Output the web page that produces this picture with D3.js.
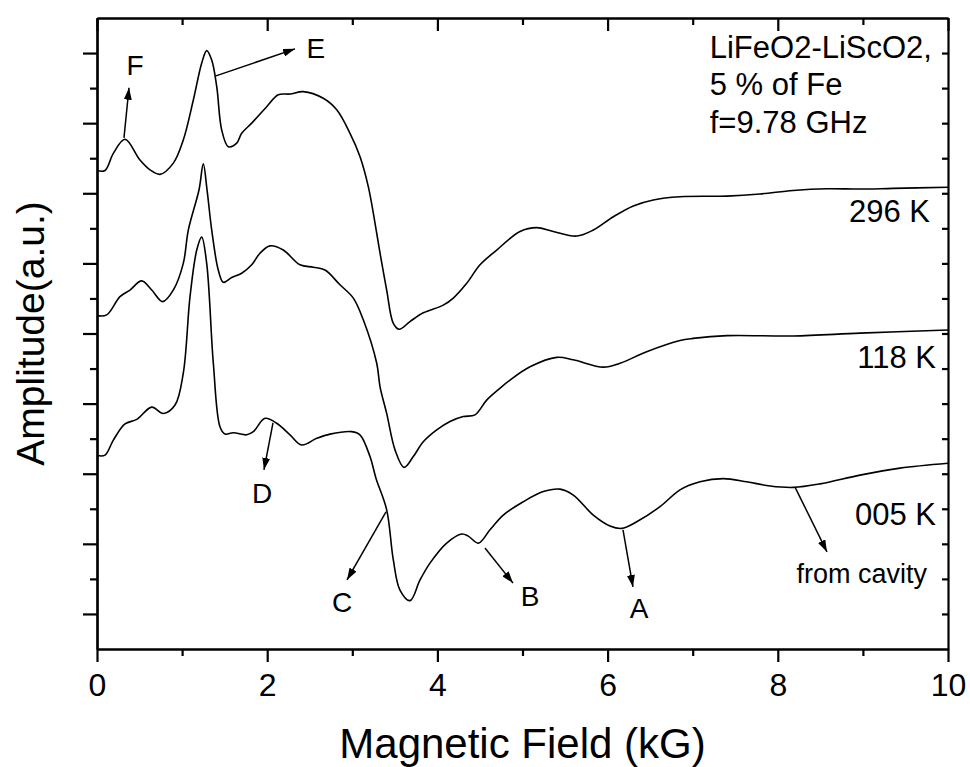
<!DOCTYPE html>
<html>
  <head>
    <meta charset="utf-8">
    <title>EPR spectra LiFeO2-LiScO2</title>
    <script src="https://cdn.jsdelivr.net/npm/d3@7"></script>
    <style>
      body { margin: 0; background: #fff; }
      svg { font-family: "Liberation Sans", Arial, sans-serif; }
      .axis path, .axis line { stroke: #000; stroke-width: 2.2; }
      .axis text { font-size: 32px; fill: #000; }
      .curve { fill: none; stroke: #000; stroke-width: 1.6; }
      .note { stroke: #000; stroke-width: 1.5; }
    </style>
  </head>

  <body>
    <svg id="chart" width="970" height="767">
      <defs>
        <marker id="head" viewBox="0 0 12 8" refX="12" refY="4" markerWidth="12" markerHeight="8" markerUnits="userSpaceOnUse" orient="auto">
          <path d="M0,0 L12,4 L0,8 Z" fill="#000"></path>
        </marker>
      </defs>
      <g id="curveGroup"></g>
      <g id="axisGroup"></g>
      <g id="noteGroup"></g>
    </svg>

    <script>
      // data, field in kG, amplitude in arbitrary units (offset per temperature)
      k296 = [[0,13.65],[0.094,13.65],[0.192,14.14],[0.329,14.54],[0.505,13.95],[0.623,13.67],[0.74,13.54],[0.897,13.86],[1.014,14.52],[1.132,15.66],[1.23,16.71],[1.289,17.07],[1.348,16.8],[1.407,16.04],[1.465,14.81],[1.543,14.33],[1.642,14.43],[1.7,14.71],[1.818,15.0],[1.994,15.47],[2.13,15.81],[2.268,15.83],[2.424,15.9],[2.659,15.71],[2.817,15.38],[2.973,14.71],[3.09,14.05],[3.188,13.19],[3.287,11.86],[3.326,11.29],[3.404,10.24],[3.482,9.29],[3.552,9.12],[3.678,9.34],[3.834,9.59],[4.069,9.81],[4.187,10.01],[4.344,10.43],[4.501,10.96],[4.697,11.38],[4.971,11.91],[5.167,12.02],[5.362,11.91],[5.637,11.78],[5.832,11.95],[6.067,12.33],[6.302,12.64],[6.537,12.81],[6.851,12.9],[7.403,12.92],[7.791,12.98],[8.179,13.08],[8.578,13.13],[8.966,13.12],[9.354,13.14],[10,13.17]];

      k118 = [[0,9.51],[0.114,9.53],[0.27,10.05],[0.388,10.24],[0.525,10.5],[0.643,10.24],[0.772,9.91],[0.897,10.24],[1.014,11.0],[1.073,11.95],[1.199,13.1],[1.249,13.84],[1.293,13.1],[1.348,11.95],[1.425,10.81],[1.484,10.46],[1.583,10.6],[1.7,10.72],[1.818,10.96],[1.915,11.29],[2.033,11.5],[2.189,11.38],[2.385,10.96],[2.542,10.89],[2.679,10.81],[2.855,10.39],[3.012,10.01],[3.129,9.39],[3.287,8.15],[3.326,7.48],[3.404,6.72],[3.502,5.68],[3.608,5.18],[3.717,5.49],[3.834,5.91],[3.992,6.25],[4.148,6.49],[4.304,6.63],[4.442,6.68],[4.579,7.1],[4.736,7.44],[4.853,7.67],[5.088,8.05],[5.402,8.32],[5.597,8.25],[5.949,8.04],[6.146,8.15],[6.459,8.48],[6.851,8.8],[7.004,8.86],[7.403,8.94],[8.179,8.93],[8.966,9.01],[10,9.1]];

      k005 = [[0,5.52],[0.094,5.53],[0.192,5.96],[0.329,6.42],[0.467,6.55],[0.643,6.9],[0.779,6.72],[0.917,6.96],[1.014,7.87],[1.093,10.05],[1.172,11.38],[1.23,11.75],[1.289,11.0],[1.367,8.15],[1.445,6.34],[1.504,6.13],[1.602,6.17],[1.759,6.11],[1.837,6.2],[1.974,6.58],[2.112,6.44],[2.268,6.11],[2.405,5.82],[2.582,6.01],[2.738,6.13],[2.993,6.2],[3.09,6.11],[3.208,5.49],[3.278,4.87],[3.404,3.97],[3.482,2.54],[3.56,1.68],[3.678,1.38],[3.796,1.97],[3.913,2.45],[4.109,3.02],[4.286,3.28],[4.363,3.22],[4.481,3.02],[4.618,3.4],[4.774,3.82],[5.009,4.2],[5.244,4.49],[5.441,4.56],[5.597,4.39],[5.832,3.82],[6.028,3.51],[6.166,3.44],[6.342,3.63],[6.616,4.06],[6.851,4.54],[7.086,4.77],[7.36,4.86],[7.635,4.77],[7.909,4.65],[8.182,4.61],[8.496,4.71],[8.966,4.96],[9.436,5.16],[10,5.3]];

      series = [k296, k118, k005];

      // tick values
      xMajor = [0, 2, 4, 6, 8, 10];
      xMinor = [1, 3, 5, 7, 9];
      yMajor = [1, 3, 5, 7, 9, 11, 13, 15, 17];
      yMinor = [2, 4, 6, 8, 10, 12, 14, 16];

      // annotations: label, label position, arrow from -> to (data units)
      tempLabels = ["296 K", "118 K", "005 K"];
      tempPos = [[9.788, 12.18], [9.859, 8.02], [9.859, 3.54]];
      infoLines = ["LiFeO2-LiScO2,", "5 % of Fe", "f=9.78 GHz"];
      infoPos = [[7.2, 16.86], [7.2, 15.81], [7.2, 14.72]];
      peakLabels = ["A", "B", "C", "D", "E", "F"];
      peakPos = [[6.369, 0.88], [5.088, 1.23], [2.879, 1.06], [1.939, 4.17], [2.573, 16.86], [0.447, 16.38]];
      peakArrows = [
        [[6.181, 3.40], [6.298, 1.77]],
        [[4.559, 2.88], [4.888, 1.88]],
        [[3.396, 3.91], [2.938, 1.97]],
        [[2.068, 6.45], [1.962, 5.11]],
        [[1.398, 16.35], [2.327, 17.12]],
        [[0.317, 14.58], [0.376, 16.01]]
      ];
      cavityLabel = "from cavity";
      cavityPos = [9.753, 1.88];
      cavityArrow = [[8.202, 4.62], [8.578, 2.77]];

      margin = {top: 18, right: 22, bottom: 118, left: 97};
      width = 970;
      height = 767;

      x = d3.scaleLinear()
          .domain([0, 10])
          .range([margin.left, width - margin.right]);

      y = d3.scaleLinear()
          .domain([0, 18])
          .range([height - margin.bottom, margin.top]);

      // curves
      linePath = d3.line()
          .x(d => x(d[0]))
          .y(d => y(d[1]))
          .curve(d3.curveCatmullRom.alpha(0.5));

      d3.select("#curveGroup").selectAll("path")
          .data(series)
          .join("path")
          .attr("class", "curve")
          .attr("d", linePath);

      // axes
      axisGroup = d3.select("#axisGroup");

      function addAxis(axis, tx, ty) {
        return axisGroup.append("g")
            .attr("class", "axis")
            .attr("transform", "translate(" + tx + "," + ty + ")")
            .call(axis);
      }

      bottom = addAxis(d3.axisBottom(x).tickValues(xMajor).tickSize(13).tickSizeOuter(0).tickPadding(11), 0, y(0));
      bottom.selectAll("text").attr("dy", "0.71em");
      addAxis(d3.axisBottom(x).tickValues(xMinor).tickSize(7).tickSizeOuter(0).tickFormat(""), 0, y(0));

      addAxis(d3.axisTop(x).tickValues(xMajor).tickSize(-13).tickSizeOuter(0).tickFormat(""), 0, y(18));
      addAxis(d3.axisTop(x).tickValues(xMinor).tickSize(-7).tickSizeOuter(0).tickFormat(""), 0, y(18));

      addAxis(d3.axisLeft(y).tickValues(yMajor).tickSize(14).tickSizeOuter(0).tickFormat(""), x(0), 0);
      addAxis(d3.axisLeft(y).tickValues(yMinor).tickSize(7).tickSizeOuter(0).tickFormat(""), x(0), 0);

      addAxis(d3.axisRight(y).tickValues(yMajor.concat(yMinor)).tickSize(-6).tickSizeOuter(0).tickFormat(""), x(10), 0);

      // axis titles
      axisGroup.append("text")
          .attr("x", (x(0) + x(10)) / 2)
          .attr("y", 758)
          .attr("text-anchor", "middle")
          .style("font-size", "42px")
          .text("Magnetic Field (kG)");

      axisGroup.append("text")
          .attr("transform", "translate(44," + ((y(0) + y(18)) / 2) + ") rotate(-90)")
          .attr("text-anchor", "middle")
          .style("font-size", "39px")
          .text("Amplitude(a.u.)");

      // annotations
      noteGroup = d3.select("#noteGroup");

      noteGroup.selectAll(".temp")
          .data(tempLabels)
          .join("text")
          .attr("class", "temp")
          .attr("x", (d, i) => x(tempPos[i][0]))
          .attr("y", (d, i) => y(tempPos[i][1]))
          .attr("text-anchor", "end")
          .style("font-size", "31px")
          .text(d => d);

      noteGroup.selectAll(".info")
          .data(infoLines)
          .join("text")
          .attr("class", "info")
          .attr("x", (d, i) => x(infoPos[i][0]))
          .attr("y", (d, i) => y(infoPos[i][1]))
          .style("font-size", "31px")
          .text(d => d);

      noteGroup.selectAll(".peak")
          .data(peakLabels)
          .join("text")
          .attr("class", "peak")
          .attr("x", (d, i) => x(peakPos[i][0]))
          .attr("y", (d, i) => y(peakPos[i][1]))
          .attr("text-anchor", "middle")
          .style("font-size", "28px")
          .text(d => d);

      noteGroup.append("text")
          .attr("x", x(cavityPos[0]))
          .attr("y", y(cavityPos[1]))
          .attr("text-anchor", "end")
          .style("font-size", "27px")
          .text(cavityLabel);

      noteGroup.selectAll(".note")
          .data(peakArrows.concat([cavityArrow]))
          .join("line")
          .attr("class", "note")
          .attr("x1", d => x(d[0][0]))
          .attr("y1", d => y(d[0][1]))
          .attr("x2", d => x(d[1][0]))
          .attr("y2", d => y(d[1][1]))
          .attr("marker-end", "url(#head)");
    </script>
  </body>
</html>
